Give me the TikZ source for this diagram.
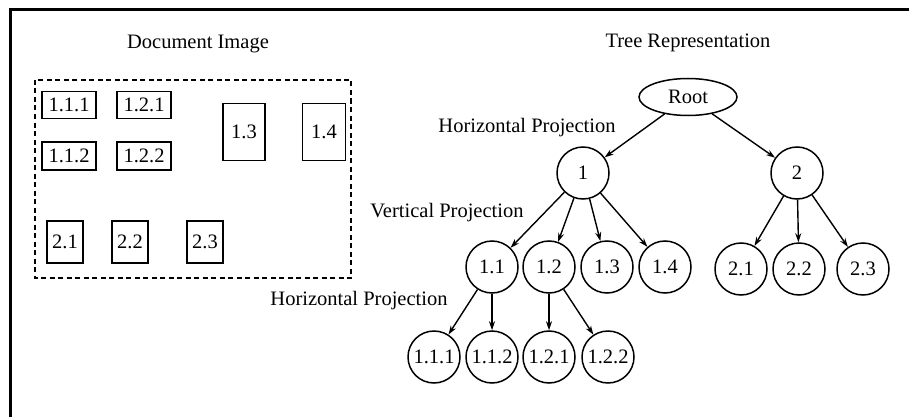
\documentclass[tikz,border=0pt]{standalone}
\usepackage{fontspec}
\setmainfont{Liberation Serif}
\usetikzlibrary{arrows.meta,shapes.geometric}
\begin{document}
\begin{tikzpicture}[x=1pt,y=-1pt,
  every node/.style={font=\fontsize{20.5}{24}\selectfont},
  blockbox/.style n args={2}{draw,line width=1.8pt,inner sep=0pt,
    minimum width=#1,minimum height=#2},
  treenode/.style={draw,circle,line width=1.5pt,inner sep=0pt,minimum size=52},
  edge/.style={line width=1.4pt,-{Stealth[length=9pt,width=6pt]}},
  lbl/.style={inner sep=0pt}
]
\useasboundingbox (0,0) rectangle (909,417);
% frame
\draw[line width=3pt] (10,417) -- (10,10) -- (909,10);

% ---- page layout ----
\node[lbl] (t1) at (198,44) {Document Image};
\draw[line width=1.6pt,dash pattern=on 5pt off 3.5pt] (35,80) rectangle (351,278);
\node[blockbox={54}{27}] (b111) at (69,105) {1.1.1};
\node[blockbox={54}{27}] (b121) at (144,105) {1.2.1};
\node[blockbox={54}{28}] (b112) at (69,156) {1.1.2};
\node[blockbox={54}{28}] (b122) at (144,156) {1.2.2};
\node[blockbox={42}{57}] (b13) at (244,132) {1.3};
\node[blockbox={43}{57}] (b14) at (324,132) {1.4};
\node[blockbox={36}{42}] (b21) at (65,242) {2.1};
\node[blockbox={36}{42}] (b22) at (130,242) {2.2};
\node[blockbox={36}{42}] (b23) at (205,242) {2.3};

% ---- tree ----
\node[lbl] (t2) at (688,43) {Tree Representation};
\node[draw,ellipse,line width=1.5pt,inner sep=0pt,minimum width=98,minimum height=37] (root) at (688,97) {Root};
\node[lbl] (h1) at (527,128) {Horizontal Projection};
\node[treenode] (n1) at (583,173) {1};
\node[treenode] (n2) at (797,173) {2};
\node[lbl] (v1) at (447,213) {Vertical Projection};
\node[treenode] (n11) at (492,267) {1.1};
\node[treenode] (n12) at (549,267) {1.2};
\node[treenode] (n13) at (607,267) {1.3};
\node[treenode] (n14) at (665,267) {1.4};
\node[treenode] (n21) at (741,269) {2.1};
\node[treenode] (n22) at (799,269) {2.2};
\node[treenode] (n23) at (863,269) {2.3};
\node[lbl] (h2) at (359,301) {Horizontal Projection};
\node[treenode] (n111) at (434,357) {1.1.1};
\node[treenode] (n112) at (492,357) {1.1.2};
\node[treenode] (n121) at (549,357) {1.2.1};
\node[treenode] (n122) at (608,357) {1.2.2};

\draw[edge] (root) -- (n1);
\draw[edge] (root) -- (n2);
\draw[edge] (n1) -- (n11);
\draw[edge] (n1) -- (n12);
\draw[edge] (n1) -- (n13);
\draw[edge] (n1) -- (n14);
\draw[edge] (n2) -- (n21);
\draw[edge] (n2) -- (n22);
\draw[edge] (n2) -- (n23);
\draw[edge] (n11) -- (n111);
\draw[edge] (n11) -- (n112);
\draw[edge] (n12) -- (n121);
\draw[edge] (n12) -- (n122);
\end{tikzpicture}
\end{document}
